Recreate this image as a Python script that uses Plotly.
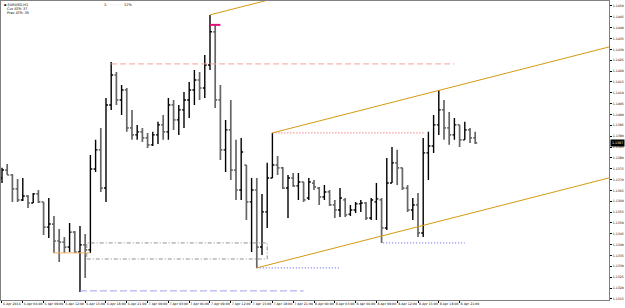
import plotly.graph_objects as go

bar_index = list(range(92))

opens = [1.13707,1.13744,1.13721,1.13657,1.13606,1.13624,1.13592,1.13634,1.13597,1.13481,
1.13495,1.13417,1.13412,1.13389,1.13458,1.13366,1.13399,1.13376,1.13749,1.13837,
1.13661,1.14044,1.14182,1.14067,1.14113,1.13938,1.13906,1.13920,1.13892,1.13860,
1.13906,1.13952,1.13920,1.14044,1.13975,1.14021,1.14067,1.14113,1.14159,1.14122,
1.14228,1.14381,1.14067,1.13837,1.13929,1.13744,1.13652,1.13767,1.13597,1.13652,
1.13389,1.13551,1.13707,1.13767,1.13754,1.13661,1.13707,1.13671,1.13689,1.13615,
1.13684,1.13661,1.13620,1.13643,1.13583,1.13560,1.13606,1.13541,1.13560,1.13588,
1.13592,1.13523,1.13597,1.13606,1.13477,1.13684,1.13777,1.13754,1.13661,1.13560,
1.13583,1.13454,1.13823,1.13855,1.13952,1.14021,1.13938,1.13906,1.13952,1.13883,
1.13929,1.13892]

highs = [1.13754,1.13772,1.13726,1.13703,1.13707,1.13629,1.13638,1.13652,1.13597,1.13615,
1.13532,1.13472,1.13435,1.13500,1.13463,1.13486,1.13449,1.13813,1.13883,1.13938,
1.14076,1.14242,1.14196,1.14136,1.14122,1.14021,1.13952,1.13938,1.13915,1.13920,
1.13966,1.13998,1.14076,1.14067,1.14044,1.14104,1.14150,1.14205,1.14196,1.14274,
1.14459,1.14413,1.14136,1.13975,1.14067,1.13883,1.13892,1.13767,1.13707,1.13707,
1.13634,1.13777,1.13915,1.13809,1.13758,1.13721,1.13730,1.13730,1.13689,1.13707,
1.13698,1.13666,1.13675,1.13652,1.13606,1.13661,1.13615,1.13583,1.13597,1.13606,
1.13597,1.13615,1.13684,1.13615,1.13800,1.13850,1.13837,1.13754,1.13675,1.13615,
1.13638,1.13892,1.13920,1.13998,1.14113,1.14067,1.14012,1.13984,1.13952,1.13966,
1.13938,1.13920]

lows = [1.13684,1.13721,1.13597,1.13597,1.13601,1.13569,1.13592,1.13592,1.13445,1.13431,
1.13362,1.13320,1.13362,1.13366,1.13362,1.13182,1.13246,1.13362,1.13735,1.13643,
1.13597,1.14021,1.14044,1.13998,1.13920,1.13883,1.13883,1.13873,1.13846,1.13855,
1.13864,1.13883,1.13883,1.13929,1.13906,1.13938,1.13984,1.14044,1.14067,1.14076,
1.14205,1.14030,1.13790,1.13735,1.13698,1.13606,1.13606,1.13514,1.13366,1.13293,
1.13352,1.13477,1.13707,1.13721,1.13657,1.13523,1.13666,1.13606,1.13597,1.13606,
1.13652,1.13583,1.13606,1.13578,1.13523,1.13528,1.13528,1.13532,1.13546,1.13551,
1.13514,1.13514,1.13514,1.13408,1.13468,1.13684,1.13675,1.13652,1.13551,1.13514,
1.13435,1.13435,1.13698,1.13823,1.13906,1.13883,1.13860,1.13883,1.13850,1.13883,
1.13869,1.13864]

closes = [1.13744,1.13721,1.13657,1.13606,1.13624,1.13592,1.13634,1.13597,1.13481,1.13495,
1.13417,1.13412,1.13389,1.13458,1.13366,1.13399,1.13376,1.13749,1.13837,1.13661,
1.14044,1.14182,1.14067,1.14113,1.13938,1.13906,1.13920,1.13892,1.13860,1.13906,
1.13952,1.13920,1.14044,1.13975,1.14021,1.14067,1.14113,1.14159,1.14122,1.14228,
1.14381,1.14067,1.13837,1.13929,1.13744,1.13652,1.13827,1.13597,1.13652,1.13389,
1.13551,1.13707,1.13767,1.13754,1.13661,1.13707,1.13671,1.13689,1.13606,1.13689,
1.13666,1.13620,1.13643,1.13583,1.13560,1.13615,1.13537,1.13560,1.13588,1.13592,
1.13523,1.13606,1.13611,1.13477,1.13684,1.13777,1.13754,1.13661,1.13560,1.13583,
1.13454,1.13823,1.13855,1.13952,1.14021,1.13938,1.13906,1.13952,1.13883,1.13929,
1.13892,1.13869]

time_tick_bars = list(range(0, 92, 4))
time_tick_labels = ["6 Apr 2016", "6 Apr 06:00", "6 Apr 09:00", "6 Apr 12:00", "6 Apr 15:00",
                    "6 Apr 18:00", "6 Apr 21:00", "7 Apr 00:00", "7 Apr 03:00", "7 Apr 06:00",
                    "7 Apr 09:00", "7 Apr 12:00", "7 Apr 15:00", "7 Apr 18:00", "7 Apr 21:00",
                    "8 Apr 00:00", "8 Apr 03:00", "8 Apr 06:00", "8 Apr 09:00", "8 Apr 12:00",
                    "8 Apr 15:00", "8 Apr 18:00", "8 Apr 21:00"]
price_ticks = [round(1.1315 + 0.0005 * k, 4) for k in range(28)]

# horizontal levels (price, start bar, end bar)
pink_level = [1.14233, 21, 87]
blue_dash_level = [1.13187, 15, 58]
orange_level = [1.13362, 9.8, 17]
red_dot_level = [1.13915, 52, 81.2]
blue_dot_level1 = [1.13293, 49, 65]
blue_dot_level2 = [1.13408, 73.3, 89]
magenta_level = [1.14413, 40, 42]
# rectangle (bar0, bar1, price_low, price_high)
box = [16.3, 51, 1.13334, 1.13408]
# channel anchors: start bar, start price (three parallel rays)
channel_starts_bar = [40, 52, 49]
channel_starts_price = [1.14459, 1.13915, 1.13293]
channel_slope_ref = [52, 1.13915, 116.7, 1.14311]

current_price = 1.13869

x_range = [-0.19, 116.73]
y_range = [1.13145, 1.14523]

fig = go.Figure()
fig.add_trace(go.Ohlc(
    x=bar_index, open=opens, high=highs, low=lows, close=closes,
    increasing=dict(line=dict(color="#000000", width=1.4)),
    decreasing=dict(line=dict(color="#666666", width=1.7)),
    tickwidth=0.38, hoverinfo="skip", showlegend=False))

shapes = []
def hline(lvl, color, dash, width=1):
    shapes.append(dict(type="line", xref="x", yref="y", x0=lvl[1], x1=lvl[2],
                       y0=lvl[0], y1=lvl[0], line=dict(color=color, width=width, dash=dash)))

hline(pink_level, "#f0a0a0", "6px,3px")
hline(blue_dash_level, "#a0a0f0", "7px,3px")
hline(orange_level, "#f5b060", "solid")
hline(red_dot_level, "#f04848", "1px,2px")
hline(blue_dot_level1, "#5a5af0", "1px,2px")
hline(blue_dot_level2, "#5a5af0", "1px,2px")
hline(magenta_level, "#e0107a", "solid", 2)

shapes.append(dict(type="rect", xref="x", yref="y", x0=box[0], x1=box[1], y0=box[2], y1=box[3],
                   line=dict(color="#909090", width=1, dash="4px,2px,1px,2px")))

slope = (channel_slope_ref[3] - channel_slope_ref[1]) / (channel_slope_ref[2] - channel_slope_ref[0])
for b, p in zip(channel_starts_bar, channel_starts_price):
    xe = x_range[1]
    shapes.append(dict(type="line", xref="x", yref="y", x0=b, y0=p, x1=xe,
                       y1=p + slope * (xe - b), line=dict(color="#d49a10", width=1)))

fig.update_layout(shapes=shapes)

annotations = []
hdr_font = dict(family="DejaVu Sans", size=3.5, color="#000000")
annotations.append(dict(xref="paper", yref="paper", x=0.003, y=0.997, xanchor="left", yanchor="top",
                        text="▪ EURUSD,H1", showarrow=False, font=hdr_font, borderpad=0))
annotations.append(dict(xref="paper", yref="paper", x=0.008, y=0.984, xanchor="left", yanchor="top",
                        text="Cur ATR: 37", showarrow=False, font=hdr_font, borderpad=0))
annotations.append(dict(xref="paper", yref="paper", x=0.008, y=0.971, xanchor="left", yanchor="top",
                        text="Prev ATR: 35", showarrow=False, font=hdr_font, borderpad=0))
annotations.append(dict(xref="paper", yref="paper", x=0.168, y=0.997, xanchor="left", yanchor="top",
                        text="1:  <span style='color:#bbbbbb'>···········</span>  12%", showarrow=False,
                        font=hdr_font, borderpad=0))
annotations.append(dict(xref="paper", yref="y", x=1.0, y=current_price, xanchor="left", yanchor="middle",
                        xshift=1, text="%.4f" % current_price, showarrow=False, bgcolor="#000000",
                        font=dict(family="DejaVu Sans", size=3.2, color="#ffffff"), borderpad=1))
fig.update_layout(annotations=annotations)

fig.update_layout(
    width=625, height=308,
    margin=dict(l=1, r=16, t=1, b=8, autoexpand=False),
    paper_bgcolor="#ffffff", plot_bgcolor="#ffffff",
    xaxis=dict(range=x_range, tickvals=time_tick_bars, ticktext=time_tick_labels,
               ticks="outside", ticklen=2, tickcolor="#000000", tickangle=0,
               ticklabelposition="outside right", automargin=False,
               tickfont=dict(family="DejaVu Sans", size=3.2, color="#000000"),
               showgrid=False, zeroline=False, showline=True, linecolor="#808080",
               mirror=True, rangeslider=dict(visible=False), fixedrange=True),
    yaxis=dict(range=y_range, side="right", tickvals=price_ticks, tickformat=".4f",
               ticks="outside", ticklen=2, tickcolor="#000000", automargin=False,
               tickfont=dict(family="DejaVu Sans", size=3.2, color="#000000"),
               showgrid=False, zeroline=False, showline=True, linecolor="#808080",
               mirror=True, fixedrange=True),
)

fig.write_html("out.html")
